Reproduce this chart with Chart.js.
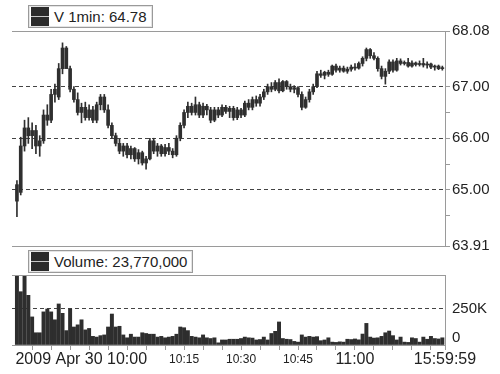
<!DOCTYPE html>
<html>
<head>
<meta charset="utf-8">
<script src="https://cdn.jsdelivr.net/npm/chart.js@4.4.1/dist/chart.umd.min.js"></script>
<style>
  html, body { margin: 0; padding: 0; background: #fff; }
  #wrap { position: relative; width: 500px; height: 374px; overflow: hidden; font-family: 'Liberation Sans', Arial, sans-serif; }
  #wrap canvas { position: absolute; left: 0; top: 0; }
  .legend-box { position: absolute; left: 28px; height: 21px; border: 1px solid #9a9a9a; box-shadow: inset 0 0 0 1px #e4e4e4; background: #fff; display: flex; align-items: center; font-size: 15px; color: #222; padding-right: 5px; z-index: 2; }
  .legend-icon { width: 18px; height: 19px; margin: 0 5px 0 2px; background: linear-gradient(#2b2b2b 0 9px, #c8c8c8 9px 10px, #2b2b2b 10px); }
</style>
</head>
<body>
<div id="wrap">
  <canvas id="priceChart" width="500" height="374"></canvas>
  <canvas id="volumeChart" width="500" height="374"></canvas>
  <div class="legend-box" style="top:5px"><div class="legend-icon"></div><span>V 1min: 64.78</span></div>
  <div class="legend-box" style="top:250px"><div class="legend-icon"></div><span>Volume: 23,770,000</span></div>
</div>
<script>
// minutes after 9:31, one candle per minute
const startLabel = '2009 Apr 30';
const tickMinutes = [29, 44, 59, 74, 89];
const tickLabels = ['10:00', '10:15', '10:30', '10:45', '11:00'];
const endLabel = '15:59:59';
const majorLabels = ['10:00', '11:00', '15:59:59'];
const minuteTicks = [4, 9, 14, 19, 24, 29, 34, 39, 44, 49, 54, 59, 64, 69, 74, 79, 84, 89, 94, 99, 104, 109];
const priceTicks = [63.91, 64.5, 65, 65.5, 66, 66.5, 67, 68.08];
const priceLabels = [63.91, 65, 66, 67, 68.08];
const priceGrid = [65, 66, 67];
const volumeTicks = [0, 250];

const opens = [65.10,64.95,65.85,66.20,66.05,66.15,65.85,65.95,66.45,66.35,
  66.85,66.80,67.35,67.75,67.35,66.95,66.75,66.50,66.60,66.40,
  66.55,66.35,66.65,66.80,66.55,66.25,66.05,65.90,65.75,65.85,
  65.68,65.80,65.60,65.72,65.52,65.60,65.95,65.75,65.85,65.70,
  65.82,65.75,65.68,66.00,66.25,66.50,66.62,66.50,66.65,66.45,
  66.62,66.55,66.35,66.55,66.45,66.60,66.52,66.58,66.40,66.55,
  66.45,66.68,66.60,66.75,66.68,66.80,66.90,67.00,66.95,67.08,
  66.92,67.10,67.00,66.95,66.98,66.85,66.60,66.75,66.90,67.00,
  67.25,67.22,67.28,67.24,67.40,67.32,67.36,67.30,67.34,67.38,
  67.36,67.45,67.55,67.72,67.60,67.55,67.35,67.20,67.30,67.48,
  67.32,67.50,67.45,67.47,67.40,67.46,67.43,67.45,67.42,67.44,
  67.38,67.40,67.35];
const highs = [65.18,66.02,66.35,66.40,66.30,66.25,66.05,66.55,66.65,66.95,
  67.05,67.45,67.85,67.78,67.40,67.00,66.88,66.68,66.70,66.65,
  66.62,66.70,66.85,66.85,66.65,66.30,66.10,65.98,65.90,65.90,
  65.85,65.82,65.78,65.75,65.65,66.00,66.00,65.90,65.88,65.88,
  65.90,65.80,66.05,66.30,66.55,66.70,66.68,66.80,66.70,66.68,
  66.66,66.60,66.60,66.60,66.65,66.64,66.62,66.62,66.60,66.58,
  66.72,66.75,66.80,66.82,66.85,66.95,67.05,67.08,67.12,67.15,
  67.12,67.12,67.05,67.02,67.00,66.90,66.80,66.95,67.05,67.30,
  67.32,67.30,67.32,67.42,67.44,67.40,67.40,67.38,67.42,67.45,
  67.48,67.58,67.75,67.74,67.66,67.58,67.40,67.35,67.52,67.52,
  67.55,67.54,67.50,67.55,67.50,67.48,67.50,67.55,67.48,67.46,
  67.42,67.42,67.40];
const lows = [64.48,64.90,65.75,65.90,65.80,65.70,65.65,65.90,66.25,66.30,
  66.70,66.75,67.25,67.40,66.90,66.70,66.45,66.30,66.35,66.35,
  66.30,66.30,66.55,66.50,66.20,66.00,65.85,65.70,65.65,65.62,
  65.60,65.55,65.50,65.48,65.40,65.58,65.70,65.65,65.65,65.65,
  65.68,65.62,65.65,65.95,66.20,66.40,66.45,66.45,66.40,66.40,
  66.45,66.30,66.32,66.40,66.42,66.48,66.40,66.35,66.36,66.40,
  66.42,66.55,66.55,66.62,66.62,66.75,66.85,66.90,66.92,66.88,
  66.90,66.95,66.90,66.88,66.80,66.55,66.58,66.70,66.85,66.98,
  67.18,67.15,67.20,67.22,67.28,67.28,67.28,67.26,67.30,67.32,
  67.34,67.40,67.50,67.55,67.52,67.30,67.15,67.05,67.25,67.28,
  67.30,67.42,67.42,67.38,67.38,67.40,67.40,67.38,67.36,67.35,
  67.32,67.33,67.32];
const closes = [64.78,65.85,66.20,66.05,66.15,65.85,65.95,66.45,66.35,66.85,
  66.95,67.35,67.75,67.35,66.95,66.75,66.50,66.60,66.40,66.55,
  66.35,66.65,66.80,66.55,66.25,66.05,65.90,65.75,65.85,65.68,
  65.80,65.60,65.72,65.52,65.60,65.95,65.75,65.85,65.70,65.82,
  65.75,65.68,66.00,66.25,66.50,66.62,66.50,66.65,66.45,66.62,
  66.55,66.35,66.55,66.45,66.60,66.52,66.58,66.40,66.55,66.45,
  66.68,66.60,66.75,66.68,66.80,66.90,67.00,66.95,67.08,66.92,
  67.10,67.00,66.95,66.98,66.85,66.60,66.75,66.90,67.00,67.25,
  67.22,67.28,67.24,67.40,67.32,67.36,67.30,67.34,67.38,67.36,
  67.45,67.55,67.72,67.60,67.55,67.35,67.20,67.30,67.48,67.32,
  67.50,67.45,67.47,67.40,67.46,67.43,67.45,67.42,67.44,67.38,
  67.40,67.35,67.36];
// thousands of shares
const volumes = [520,370,520,345,195,85,85,230,250,230,
  175,285,220,100,250,125,140,175,105,115,
  60,55,65,70,125,215,125,130,70,50,
  75,55,55,85,80,75,75,55,60,50,
  55,60,75,125,120,100,60,55,50,70,
  50,45,50,15,35,35,40,40,40,45,
  55,50,48,35,38,55,35,80,95,160,
  45,40,38,25,20,70,55,60,55,58,
  30,35,50,20,18,22,20,40,38,42,
  36,76,150,55,48,50,60,85,97,65,
  35,55,20,18,50,45,20,55,40,60,
  45,42,50];

const xMin = -1.3;
const xMax = 112.7;
const fontFamily = "'Liberation Sans', Arial, sans-serif";
const lineGray = '#9a9a9a';
const gridDark = '#444';
const ink = '#2f2f2f';

// top (and optionally bottom) frame lines of each panel
const panelLines = {
  id: 'panelLines',
  afterDatasetsDraw(chart, args, opts) {
    const { ctx, chartArea: a } = chart;
    ctx.save();
    ctx.strokeStyle = lineGray;
    ctx.lineWidth = 1;
    ctx.beginPath();
    const top = Math.round(a.top) + 0.5;
    ctx.moveTo(a.left, top);
    ctx.lineTo(a.right, top);
    if (opts.bottom) {
      const bottom = Math.round(a.bottom) + 0.5;
      ctx.moveTo(a.left, bottom);
      ctx.lineTo(a.right, bottom);
    }
    ctx.stroke();
    ctx.restore();
  }
};

// "2009 Apr 30 " in front of the 10:00 label
const datePrefix = {
  id: 'datePrefix',
  afterDraw(chart) {
    const xs = chart.scales.x;
    const px = xs.getPixelForValue(tickMinutes[0]);
    const ctx = chart.ctx;
    ctx.save();
    ctx.font = '16px ' + fontFamily;
    const w = ctx.measureText(tickLabels[0]).width;
    ctx.fillStyle = '#222';
    ctx.textAlign = 'right';
    ctx.textBaseline = 'middle';
    ctx.fillText(startLabel + ' ', px - w / 2, xs.top + 5 + 9.5);
    ctx.restore();
  }
};

new Chart(document.getElementById('priceChart'), {
  type: 'bar',
  data: {
    datasets: [
      {
        label: 'wick',
        data: highs.map((h, i) => ({ x: i, y: [lows[i], h] })),
        backgroundColor: ink,
        barThickness: 1,
        grouped: false,
        order: 2
      },
      {
        label: 'body',
        data: opens.map((o, i) => ({ x: i, y: [Math.min(o, closes[i]), Math.max(o, closes[i])] })),
        backgroundColor: ink,
        barThickness: 3,
        minBarLength: 1,
        grouped: false,
        order: 1
      }
    ]
  },
  options: {
    responsive: false,
    animation: false,
    layout: { padding: { left: 12, top: 31, right: 0, bottom: 128 } },
    plugins: { legend: { display: false }, tooltip: { enabled: false }, panelLines: { bottom: true } },
    scales: {
      x: { type: 'linear', display: false, offset: false, min: xMin, max: xMax },
      y: {
        position: 'right',
        min: 63.91,
        max: 68.08,
        afterBuildTicks: s => { s.ticks = priceTicks.map(v => ({ value: v })); },
        afterFit: s => { s.width = 55; },
        ticks: {
          autoSkip: false,
          padding: 2,
          color: '#222',
          font: { family: fontFamily, size: 15 },
          callback: v => priceLabels.includes(v) ? v.toFixed(2) : ''
        },
        grid: {
          color: c => (c.tick && priceGrid.includes(c.tick.value)) ? gridDark : 'rgba(0,0,0,0)',
          tickColor: lineGray,
          tickLength: 5,
          tickBorderDash: [],
          lineWidth: 1
        },
        border: { display: true, color: lineGray, dash: [4, 3] }
      }
    }
  },
  plugins: [panelLines]
});

new Chart(document.getElementById('volumeChart'), {
  type: 'bar',
  data: {
    datasets: [{
      label: 'Volume',
      data: volumes.map((v, i) => ({ x: i, y: v })),
      backgroundColor: '#2e2e2e',
      barThickness: 3.3
    }]
  },
  options: {
    responsive: false,
    animation: false,
    layout: { padding: { left: 12, top: 275, right: 0, bottom: 5 } },
    plugins: { legend: { display: false }, tooltip: { enabled: false }, panelLines: { bottom: false } },
    scales: {
      x: {
        type: 'linear',
        offset: false,
        min: xMin,
        max: xMax,
        afterBuildTicks: s => { s.ticks = minuteTicks.concat([xMax]).map(v => ({ value: v })); },
        ticks: {
          autoSkip: false,
          maxRotation: 0,
          padding: 0,
          color: '#222',
          font: c => {
            const v = c.tick ? c.tick.value : null;
            const k = tickMinutes.indexOf(v);
            const lab = v === xMax ? endLabel : (k >= 0 ? tickLabels[k] : '');
            return { family: fontFamily, size: majorLabels.includes(lab) ? 16 : 12, lineHeight: '19px' };
          },
          callback: v => {
            const k = tickMinutes.indexOf(v);
            if (k >= 0) return tickLabels[k];
            if (v === xMax) return endLabel;
            return '';
          }
        },
        grid: { offset: false, drawOnChartArea: false, drawTicks: true, tickLength: 5, tickColor: lineGray, tickBorderDash: [] },
        border: { display: true, color: lineGray }
      },
      y: {
        position: 'right',
        min: 0,
        max: 486,
        afterBuildTicks: s => { s.ticks = volumeTicks.map(v => ({ value: v })); },
        afterFit: s => { s.width = 55; },
        ticks: {
          autoSkip: false,
          padding: 7,
          color: '#222',
          font: { family: fontFamily, size: 15, lineHeight: 1 },
          callback: v => v === 0 ? ['0', ''] : v + 'K'
        },
        grid: {
          color: c => (c.tick && c.tick.value === 250) ? gridDark : 'rgba(0,0,0,0)',
          drawTicks: false,
          lineWidth: 1
        },
        border: { display: true, color: lineGray, dash: [4, 3] }
      }
    }
  },
  plugins: [panelLines, datePrefix]
});
</script>
</body>
</html>
